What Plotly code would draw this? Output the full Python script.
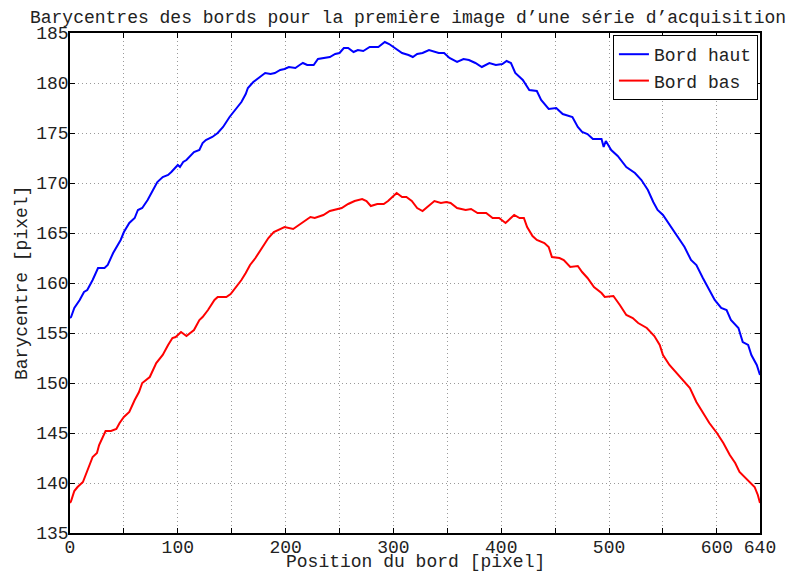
import plotly.graph_objects as go

# Bord haut (blue)
haut_x = [0, 1, 4, 9, 13, 16, 21, 26, 32, 35, 40, 44, 47, 50, 55, 60, 63, 67, 72, 77, 81, 86, 91, 94, 98,
          100, 102, 105, 108, 111, 115, 120, 123, 126, 132, 137, 142, 148, 151, 156, 159, 163, 165, 170,
          175, 181, 186, 190, 195, 199, 203, 209, 213, 216, 220, 226, 230, 237, 241, 246, 250, 254, 258,
          263, 267, 272, 278, 286, 292, 296, 301, 308, 314, 318, 322, 327, 333, 338, 342, 347, 352, 359,
          365, 370, 376, 382, 389, 395, 401, 405, 409, 413, 420, 426, 433, 437, 444, 451, 457, 466, 471,
          475, 480, 485, 493, 495, 497, 502, 508, 516, 524, 530, 536, 541, 545, 550, 556, 562, 570, 576,
          581, 587, 592, 598, 604, 609, 613, 620, 624, 629, 632, 637, 640]
haut_y = [156.5, 156.6, 157.5, 158.3, 159.1, 159.3, 160.3, 161.5, 161.5, 161.8, 163.0, 163.8, 164.3, 165.1,
          166.0, 166.5, 167.3, 167.5, 168.3, 169.3, 170.1, 170.6, 170.8, 171.1, 171.6, 171.8, 171.6, 172.1,
          172.3, 172.6, 173.1, 173.3, 174.0, 174.3, 174.6, 175.0, 175.6, 176.6, 177.0, 177.6, 178.1, 178.9,
          179.5, 180.1, 180.5, 181.0, 180.9, 181.0, 181.3, 181.4, 181.6, 181.5, 181.8, 182.0, 181.8, 181.8,
          182.4, 182.5, 182.6, 182.9, 183.0, 183.5, 183.5, 183.1, 183.3, 183.2, 183.6, 183.6, 184.1, 183.9,
          183.5, 183.0, 182.8, 182.6, 182.9, 183.0, 183.3, 183.1, 183.0, 183.0, 182.5, 182.1, 182.4, 182.3,
          182.0, 181.6, 182.0, 181.8, 181.9, 182.2, 182.0, 181.0, 180.3, 179.3, 179.2, 178.3, 177.4, 177.5,
          176.9, 176.6, 175.6, 175.1, 174.9, 174.4, 174.4, 173.6, 174.2, 173.3, 172.7, 171.6, 171.0, 170.3,
          169.3, 168.1, 167.3, 166.8, 165.8, 164.8, 163.6, 162.3, 161.8, 160.5, 159.5, 158.3, 157.5, 157.3,
          156.3, 155.5, 154.1, 153.8, 152.8, 151.8, 150.8]

# Bord bas (red)
bas_x = [0, 1, 4, 7, 12, 16, 21, 25, 27, 33, 38, 43, 46, 50, 55, 60, 64, 67, 74, 80, 86, 91, 95, 98, 103,
         108, 115, 120, 123, 128, 134, 137, 145, 149, 154, 159, 163, 167, 172, 178, 184, 189, 195, 199,
         207, 212, 218, 223, 227, 235, 241, 247, 252, 258, 264, 271, 275, 279, 285, 291, 295, 300, 303,
         308, 312, 317, 322, 327, 333, 338, 344, 349, 353, 359, 367, 372, 378, 386, 392, 398, 404, 409,
         412, 417, 421, 424, 429, 433, 440, 444, 447, 454, 458, 464, 471, 475, 480, 486, 493, 496, 504,
         510, 516, 522, 527, 535, 542, 547, 550, 556, 562, 569, 575, 581, 587, 593, 600, 606, 612, 617,
         621, 627, 632, 635, 638, 640]
bas_y = [138.0, 138.2, 139.2, 139.6, 140.1, 141.3, 142.6, 143.0, 143.8, 145.2, 145.2, 145.4, 146.0, 146.6,
         147.1, 148.3, 149.1, 150.0, 150.6, 152.0, 152.8, 153.8, 154.5, 154.6, 155.1, 154.7, 155.3, 156.3,
         156.6, 157.3, 158.3, 158.6, 158.6, 158.9, 159.6, 160.3, 161.0, 161.8, 162.5, 163.5, 164.5, 165.1,
         165.4, 165.6, 165.4, 165.8, 166.2, 166.6, 166.5, 166.8, 167.2, 167.4, 167.5, 167.9, 168.2, 168.4,
         168.2, 167.7, 167.9, 167.9, 168.2, 168.7, 169.0, 168.6, 168.6, 168.2, 167.5, 167.2, 167.8, 168.2,
         168.0, 168.1, 168.0, 167.5, 167.3, 167.4, 167.0, 167.0, 166.5, 166.5, 166.0, 166.5, 166.8, 166.5,
         166.5, 165.6, 164.7, 164.3, 164.0, 163.6, 162.6, 162.5, 162.3, 161.6, 161.7, 161.1, 160.5, 159.6,
         159.0, 158.6, 158.7, 157.8, 156.8, 156.5, 156.0, 155.5, 154.7, 153.8, 152.8, 151.8, 151.1, 150.3,
         149.5, 148.1, 147.0, 146.0, 145.0, 144.0, 142.8, 142.0, 141.1, 140.5, 139.9, 139.6, 138.8, 138.0]

x_tickvals = [0, 50, 100, 150, 200, 250, 300, 350, 400, 450, 500, 550, 600, 640]
x_ticktext = ["0", "", "100", "", "200", "", "300", "", "400", "", "500", "", "600", "640"]
y_tickvals = [135, 140, 145, 150, 155, 160, 165, 170, 175, 180, 185]

FONT = "Liberation Mono, Courier New, monospace"
fs = 18
TXT = "#222222"

# The page body has an 8px margin: the figure is sized/offset to compensate
W, H = 799, 566
ML, MR, MT, MB = 62, 47, 25, 41
OFF = 8

fig = go.Figure()
fig.add_trace(go.Scatter(x=haut_x, y=haut_y, mode="lines", name="Bord haut",
                         line=dict(color="#0000ff", width=2)))
fig.add_trace(go.Scatter(x=bas_x, y=bas_y, mode="lines", name="Bord bas",
                         line=dict(color="#ff0000", width=2)))

axis_common = dict(showline=True, linecolor="black", linewidth=1.5, mirror="ticks",
                   ticks="inside", ticklen=5, tickcolor="black",
                   showgrid=True, gridcolor="#9a9a9a", griddash="1px,3px", gridwidth=1,
                   zeroline=False, automargin=False,
                   tickfont=dict(family=FONT, size=fs, color=TXT))

pw, ph = W - ML - MR, H - MT - MB
px0, py_bottom = ML + OFF, H - MB + OFF  # page px of plot left / bottom

fig.update_layout(
    width=W, height=H,
    margin=dict(l=ML, r=MR, t=MT, b=MB, autoexpand=False),
    paper_bgcolor="white", plot_bgcolor="white",
    font=dict(family=FONT, size=fs, color=TXT),
    title=dict(text="Barycentres des bords pour la première image d\u2019une série d\u2019acquisition",
               x=(408 - OFF) / W, xref="container", xanchor="center",
               y=1 - (17 - OFF) / H, yref="container", yanchor="middle",
               font=dict(family=FONT, size=fs, color=TXT)),
    xaxis=dict(range=[0, 640], tickvals=x_tickvals, ticktext=x_ticktext, ticklabelstandoff=-3,
               **axis_common),
    yaxis=dict(range=[135, 185], tickvals=y_tickvals, ticklabelstandoff=-4,
               **axis_common),
    legend=dict(x=0.997, y=0.996, xanchor="right", yanchor="top",
                bordercolor="black", borderwidth=1, bgcolor="white",
                font=dict(family=FONT, size=fs, color=TXT),
                tracegroupgap=0, itemwidth=30),
    showlegend=True,
    annotations=[
        dict(text="Position du bord [pixel]", showarrow=False, xref="paper", yref="paper",
             x=(415 - px0) / pw, y=(py_bottom - 562) / ph, xanchor="center", yanchor="middle",
             font=dict(family=FONT, size=fs, color=TXT)),
        dict(text="Barycentre [pixel]", textangle=-90, showarrow=False, xref="paper", yref="paper",
             x=(22 - px0) / pw, y=(py_bottom - 283) / ph, xanchor="center", yanchor="middle",
             font=dict(family=FONT, size=fs, color=TXT)),
    ],
)

fig.write_html("out.html")
